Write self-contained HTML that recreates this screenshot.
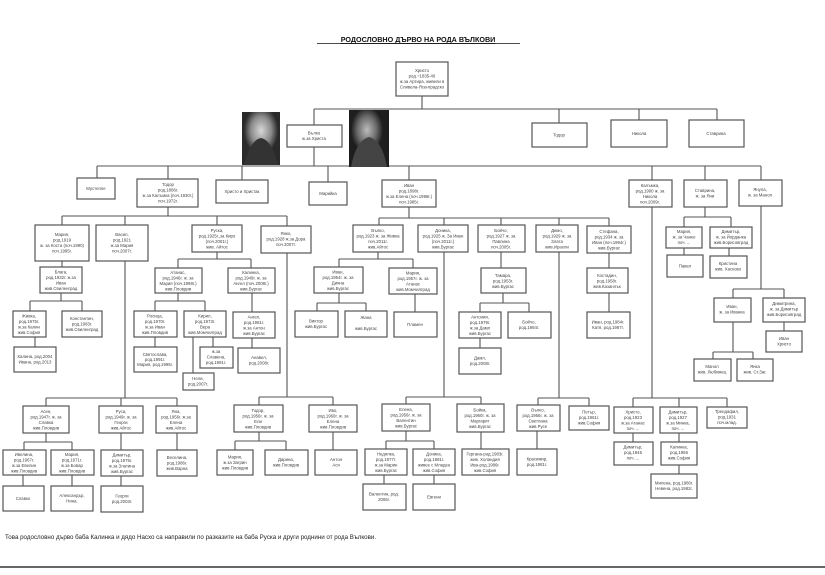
<!DOCTYPE html>
<html><head><meta charset="utf-8"><style>
html,body{margin:0;padding:0;background:#fff;width:825px;height:575px;overflow:hidden}
svg{display:block}
rect.b{fill:#fff;stroke:#555;stroke-width:1.2}
text{font-family:"Liberation Sans",sans-serif;font-size:4.3px;fill:#444;text-anchor:middle}
line,path.c{stroke:#555;stroke-width:1.1;fill:none}
</style></head><body>
<svg width="825" height="575" viewBox="0 0 825 575" xmlns="http://www.w3.org/2000/svg">
<text x="418" y="42" style="font-size:7.2px;font-weight:bold;fill:#111;text-decoration:underline">РОДОСЛОВНО ДЪРВО НА РОДА ВЪЛКОВИ</text>
<line x1="317" y1="43.5" x2="520" y2="43.5" style="stroke:#111;stroke-width:0.7"/>

<!-- connectors -->
<path class="c" d="M422 96V109M314 109H717M314 109V125M559 109V123M639 109V120M717 109V120
M314 147V166M97 166H761M97 166V178M168 166V179M242 166V180M328 166V182M409 166V180M652 166V180M705 166V180M761 166V180
M168 207V216M62 216H287M62 216V225M125 216V225M217 216V225M287 216V226
M409 207V218M379 218H609M379 218V225M444 218V225M501 218V225M559 218V225M609 218V226
M705 207V217M684 217H731M684 217V227M731 217V227M684 248V255M729 248V256
M761 206V289M733 289H784M733 289V298M784 289V298M733 322V352M713 352H753M713 352V359M753 352V359M784 322V331
M62 261V267M61 293V301M30 301H82M30 301V311M82 301V311M35 337V347
M125 261V398M46 398H177M46 398V406M121 398V406M177 398V406M46 433V442M24 442H72M24 442V450M72 442V450M23 475V486M72 475V486M121 433V450M121 476V486M177 433V450
M217 252V259M178 259H251M178 259V268M251 259V268M178 293V301M155 301H205M155 301V311M205 301V311M155 337V347M193 337V373M213 337V347M252 293V312M252 338V348
M287 253V397M259 397H333M259 397V405M333 397V405M259 432V441M235 441H286M235 441V450M286 441V450M333 432V450
M378 252V259M339 259H413M339 259V268M413 259V268M339 293V303M317 303H366M317 303V311M366 303V311M415 294V312
M444 252V397M406 397H481M406 397V404M481 397V404M406 431V441M386 441H434M386 441V449M434 441V449M384 475V484M434 475V484M481 432V449
M501 252V268M503 293V303M480 303H529M480 303V312M529 303V312M480 338V348
M559 252V398M538 398H589M538 398V405M589 398V406M537 431V449
M609 253V268M609 293V312
M652 207V398M633 398H727M633 398V407M679 398V407M727 398V407M633 433V442M679 433V442M679 465V474"/>

<!-- photos -->
<defs>
<radialGradient id="f1" cx="0.5" cy="0.35" r="0.45"><stop offset="0" stop-color="#d8d8d8"/><stop offset="0.6" stop-color="#8a8a8a"/><stop offset="1" stop-color="#2a2a2a"/></radialGradient>
<radialGradient id="f2" cx="0.45" cy="0.35" r="0.4"><stop offset="0" stop-color="#bcbcbc"/><stop offset="0.6" stop-color="#6a6a6a"/><stop offset="1" stop-color="#1e1e1e"/></radialGradient>
</defs>
<rect x="242" y="112" width="38" height="53" fill="#2a2a2a"/>
<rect x="242" y="112" width="38" height="53" fill="url(#f1)"/>
<path d="M244 165 Q250 140 261 138 Q272 140 278 165Z" fill="#333"/>
<rect x="349" y="110" width="40" height="57" fill="#262626"/>
<rect x="349" y="110" width="40" height="57" fill="url(#f2)"/>
<path d="M351 167 Q356 140 369 137 Q382 140 387 167Z" fill="#444"/>

<!-- boxes -->
<rect class="b" x="396" y="62" width="52" height="34"/><text><tspan x="422" y="72">Христо</tspan><tspan x="422" dy="5.5">род.~1835-40</tspan><tspan x="422" dy="5.5">ж.за Артира, живели в</tspan><tspan x="422" dy="5.5">Сливела-Ясенградско</tspan></text>
<rect class="b" x="287" y="125" width="55" height="22"/><text><tspan x="314" y="134.5">Вълко</tspan><tspan x="314" dy="5.5">ж.за Христа</tspan></text>
<rect class="b" x="532" y="123" width="55" height="24"/><text x="559" y="136.5">Тодор</text>
<rect class="b" x="611" y="120" width="56" height="27"/><text x="639" y="135">Никола</text>
<rect class="b" x="689" y="120" width="55" height="27"/><text x="716" y="135">Ставрина</text>

<rect class="b" x="77" y="178" width="38" height="21"/><text x="96" y="190">Мустепле</text>
<rect class="b" x="137" y="179" width="61" height="28"/><text><tspan x="168" y="186">Тодор</tspan><tspan x="168" dy="5.5">род.1886г.</tspan><tspan x="168" dy="5.5">ж.за Калъмка (поч.1930г.)</tspan><tspan x="168" dy="5.5">поч.1972г.</tspan></text>
<rect class="b" x="216" y="180" width="52" height="23"/><text x="242" y="193">Христо и Христак</text>
<rect class="b" x="309" y="182" width="38" height="23"/><text x="328" y="195">Марийка</text>
<rect class="b" x="382" y="180" width="54" height="27"/><text><tspan x="409" y="187">Иван</tspan><tspan x="409" dy="5.5">род.1898г.</tspan><tspan x="409" dy="5.5">ж.за Елена (поч.1998г.)</tspan><tspan x="409" dy="5.5">поч.1985г.</tspan></text>
<rect class="b" x="629" y="180" width="43" height="27"/><text><tspan x="650" y="187">Калъмка,</tspan><tspan x="650" dy="5.5">род.1900 ж. за</tspan><tspan x="650" dy="5.5">Никола</tspan><tspan x="650" dy="5.5">поч.2009г.</tspan></text>
<rect class="b" x="684" y="180" width="43" height="27"/><text><tspan x="705" y="192">Ставрина,</tspan><tspan x="705" dy="5.5">ж. за Яни</tspan></text>
<rect class="b" x="739" y="180" width="43" height="26"/><text><tspan x="760" y="191">Янула,</tspan><tspan x="760" dy="5.5">ж. за Манол</tspan></text>

<rect class="b" x="35" y="225" width="54" height="36"/><text><tspan x="62" y="236">Мария,</tspan><tspan x="62" dy="5.5">род.1919</tspan><tspan x="62" dy="5.5">ж. за Коста (поч.1990)</tspan><tspan x="62" dy="5.5">поч.1995г.</tspan></text>
<rect class="b" x="96" y="225" width="52" height="36"/><text><tspan x="122" y="236">Васил,</tspan><tspan x="122" dy="5.5">род.1921</tspan><tspan x="122" dy="5.5">ж.за Мария</tspan><tspan x="122" dy="5.5">поч.2007г.</tspan></text>
<rect class="b" x="192" y="225" width="50" height="27"/><text><tspan x="217" y="232">Руска,</tspan><tspan x="217" dy="5.5">род.1925г.,за Киро</tspan><tspan x="217" dy="5.5">(поч.2001г.)</tspan><tspan x="217" dy="5.5">жив. Айтос</tspan></text>
<rect class="b" x="261" y="226" width="50" height="27"/><text><tspan x="286" y="235">Янко,</tspan><tspan x="286" dy="5.5">род.1928 ж.за Дора</tspan><tspan x="286" dy="5.5">поч.2007г.</tspan></text>
<rect class="b" x="353" y="225" width="50" height="27"/><text><tspan x="378" y="232">Вълко,</tspan><tspan x="378" dy="5.5">род.1923 ж. за Живка</tspan><tspan x="378" dy="5.5">поч.2011г.</tspan><tspan x="378" dy="5.5">жив.Айтос</tspan></text>
<rect class="b" x="418" y="225" width="50" height="27"/><text><tspan x="443" y="232">Доника,</tspan><tspan x="443" dy="5.5">род.1925 ж. За Иван</tspan><tspan x="443" dy="5.5">(поч.2011г.)</tspan><tspan x="443" dy="5.5">жив.Бургас</tspan></text>
<rect class="b" x="478" y="225" width="47" height="27"/><text><tspan x="501" y="232">Бойчо,</tspan><tspan x="501" dy="5.5">род.1927 ж. за</tspan><tspan x="501" dy="5.5">Павлина</tspan><tspan x="501" dy="5.5">поч.2005г.</tspan></text>
<rect class="b" x="536" y="225" width="42" height="27"/><text><tspan x="557" y="232">Димо,</tspan><tspan x="557" dy="5.5">род.1929 ж. за</tspan><tspan x="557" dy="5.5">Злата</tspan><tspan x="557" dy="5.5">жив.Ирахли</tspan></text>
<rect class="b" x="587" y="226" width="44" height="27"/><text><tspan x="609" y="233">Стефана,</tspan><tspan x="609" dy="5.5">род.1934 ж. за</tspan><tspan x="609" dy="5.5">Иван (поч.1994г.)</tspan><tspan x="609" dy="5.5">жив.Бургас</tspan></text>
<rect class="b" x="666" y="227" width="36" height="21"/><text><tspan x="684" y="233">Мария,</tspan><tspan x="684" dy="5.5">ж. за Чанко</tspan><tspan x="684" dy="5.5">поч. ...</tspan></text>
<rect class="b" x="710" y="227" width="42" height="21"/><text><tspan x="731" y="233">Димитър,</tspan><tspan x="731" dy="5.5">ж. за Йорданка</tspan><tspan x="731" dy="5.5">жив.Борисовград</tspan></text>
<rect class="b" x="667" y="255" width="36" height="22"/><text x="685" y="267.5">Павел</text>
<rect class="b" x="710" y="256" width="37" height="22"/><text><tspan x="728" y="265">Кристина</tspan><tspan x="728" dy="5.5">жив. Хасково</tspan></text>

<rect class="b" x="40" y="267" width="42" height="26"/><text><tspan x="61" y="273.5">Блага,</tspan><tspan x="61" dy="5.5">род.1932г. ж.за</tspan><tspan x="61" dy="5.5">Иван</tspan><tspan x="61" dy="5.5">жив.Свиленград</tspan></text>
<rect class="b" x="155" y="268" width="47" height="25"/><text><tspan x="178" y="274">Атанас,</tspan><tspan x="178" dy="5.5">род.1946г. ж. за</tspan><tspan x="178" dy="5.5">Мария (поч.1998г.)</tspan><tspan x="178" dy="5.5">жив.Пловдив</tspan></text>
<rect class="b" x="228" y="268" width="47" height="25"/><text><tspan x="251" y="274">Калинка,</tspan><tspan x="251" dy="5.5">род.1949г. ж. за</tspan><tspan x="251" dy="5.5">Ангел (поч.2008г.)</tspan><tspan x="251" dy="5.5">жив.Бургас</tspan></text>
<rect class="b" x="314" y="267" width="49" height="26"/><text><tspan x="338" y="273.5">Иван,</tspan><tspan x="338" dy="5.5">род.1954г. ж. за</tspan><tspan x="338" dy="5.5">Дияна</tspan><tspan x="338" dy="5.5">жив.Бургас</tspan></text>
<rect class="b" x="389" y="268" width="48" height="26"/><text><tspan x="413" y="274.5">Мария,</tspan><tspan x="413" dy="5.5">род.1957г. ж. за</tspan><tspan x="413" dy="5.5">Атанас</tspan><tspan x="413" dy="5.5">жив.Момчилград</tspan></text>
<rect class="b" x="481" y="268" width="45" height="25"/><text><tspan x="503" y="277">Тамара,</tspan><tspan x="503" dy="5.5">род.1953г.</tspan><tspan x="503" dy="5.5">жив.Бургас</tspan></text>
<rect class="b" x="587" y="268" width="41" height="25"/><text><tspan x="607" y="277">Костадин,</tspan><tspan x="607" dy="5.5">род.1958г.</tspan><tspan x="607" dy="5.5">жив.Казанлък</tspan></text>
<rect class="b" x="714" y="298" width="37" height="24"/><text><tspan x="732" y="308">Иван,</tspan><tspan x="732" dy="5.5">ж. за Иванка</tspan></text>
<rect class="b" x="763" y="298" width="42" height="24"/><text><tspan x="784" y="305">Димитрина,</tspan><tspan x="784" dy="5.5">ж. за Димитър</tspan><tspan x="784" dy="5.5">жив.Борисовград</tspan></text>

<rect class="b" x="13" y="311" width="33" height="26"/><text><tspan x="29" y="317.5">Живка,</tspan><tspan x="29" dy="5.5">род.1975г.</tspan><tspan x="29" dy="5.5">ж.за Калин</tspan><tspan x="29" dy="5.5">жив.София</tspan></text>
<rect class="b" x="62" y="311" width="40" height="26"/><text><tspan x="82" y="320">Константин,</tspan><tspan x="82" dy="5.5">род.1983г.</tspan><tspan x="82" dy="5.5">жив.Свиленград</tspan></text>
<rect class="b" x="134" y="311" width="43" height="26"/><text><tspan x="155" y="317.5">Росица,</tspan><tspan x="155" dy="5.5">род.1970г.</tspan><tspan x="155" dy="5.5">ж.за Иван</tspan><tspan x="155" dy="5.5">жив.Пловдив</tspan></text>
<rect class="b" x="184" y="311" width="42" height="26"/><text><tspan x="205" y="317.5">Кирил,</tspan><tspan x="205" dy="5.5">род.1973г.</tspan><tspan x="205" dy="5.5">Вера</tspan><tspan x="205" dy="5.5">жив.Момчилград</tspan></text>
<rect class="b" x="233" y="312" width="42" height="26"/><text><tspan x="254" y="318.5">Ангел,</tspan><tspan x="254" dy="5.5">род.1981г.</tspan><tspan x="254" dy="5.5">ж.за Антон</tspan><tspan x="254" dy="5.5">жив.Бургас</tspan></text>
<rect class="b" x="295" y="311" width="43" height="26"/><text><tspan x="316" y="322.5">Виктор</tspan><tspan x="316" dy="5.5">жив.Бургас</tspan></text>
<rect class="b" x="345" y="311" width="42" height="26"/><text><tspan x="366" y="319">Жана</tspan><tspan x="366" dy="11">жив.Бургас</tspan></text>
<rect class="b" x="394" y="312" width="43" height="25"/><text x="415" y="326">Пламен</text>
<rect class="b" x="459" y="312" width="42" height="26"/><text><tspan x="480" y="318.5">Антония,</tspan><tspan x="480" dy="5.5">род.1979г.</tspan><tspan x="480" dy="5.5">ж.за Дамл</tspan><tspan x="480" dy="5.5">жив.Бургас</tspan></text>
<rect class="b" x="508" y="312" width="43" height="26"/><text><tspan x="529" y="323.5">Бойчо,</tspan><tspan x="529" dy="5.5">род.1984г.</tspan></text>
<rect class="b" x="587" y="312" width="43" height="26"/><text><tspan x="608" y="323.5">Иван, род.1984г.</tspan><tspan x="608" dy="5.5">Катя, род.1987г.</tspan></text>
<rect class="b" x="766" y="331" width="36" height="21"/><text><tspan x="784" y="340">Иван</tspan><tspan x="784" dy="5.5">Христо</tspan></text>

<rect class="b" x="14" y="347" width="42" height="25"/><text><tspan x="35" y="358">Калина, род.2004</tspan><tspan x="35" dy="5.5">Ивана, род.2013</tspan></text>
<rect class="b" x="134" y="347" width="43" height="25"/><text><tspan x="155" y="356">Святослава,</tspan><tspan x="155" dy="5">род.1991г.</tspan><tspan x="155" dy="5">Мария, род.1995г.</tspan></text>
<rect class="b" x="200" y="347" width="33" height="21"/><text><tspan x="216" y="353">ж.за</tspan><tspan x="216" dy="5.5">Славена,</tspan><tspan x="216" dy="5.5">род.1981г.</tspan></text>
<rect class="b" x="238" y="348" width="42" height="25"/><text><tspan x="259" y="359">Анавел,</tspan><tspan x="259" dy="5.5">род.2008г.</tspan></text>
<rect class="b" x="459" y="348" width="42" height="26"/><text><tspan x="480" y="359.5">Дамл,</tspan><tspan x="480" dy="5.5">род.2008г.</tspan></text>
<rect class="b" x="694" y="359" width="37" height="22"/><text><tspan x="712" y="368">Манол</tspan><tspan x="712" dy="5.5">жив. Любимец</tspan></text>
<rect class="b" x="737" y="359" width="36" height="22"/><text><tspan x="755" y="368">Янка</tspan><tspan x="755" dy="5.5">жив. Ст.Заг.</tspan></text>
<rect class="b" x="183" y="373" width="31" height="17"/><text><tspan x="198" y="380">Нели,</tspan><tspan x="198" dy="5.5">род.2007г.</tspan></text>

<rect class="b" x="23" y="406" width="46" height="27"/><text><tspan x="46" y="413">Асен,</tspan><tspan x="46" dy="5.5">род.1947г. ж. за</tspan><tspan x="46" dy="5.5">Славка</tspan><tspan x="46" dy="5.5">жив.Пловдив</tspan></text>
<rect class="b" x="99" y="406" width="44" height="27"/><text><tspan x="121" y="413">Руса,</tspan><tspan x="121" dy="5.5">род.1949г. ж. за</tspan><tspan x="121" dy="5.5">Георги</tspan><tspan x="121" dy="5.5">жив.Айтос</tspan></text>
<rect class="b" x="156" y="406" width="41" height="27"/><text><tspan x="176" y="413">Яна,</tspan><tspan x="176" dy="5.5">род.1956г. ж.за</tspan><tspan x="176" dy="5.5">Елена</tspan><tspan x="176" dy="5.5">жив.Айтос</tspan></text>
<rect class="b" x="234" y="405" width="49" height="27"/><text><tspan x="258" y="412">Тодор,</tspan><tspan x="258" dy="5.5">род.1956г. ж. за</tspan><tspan x="258" dy="5.5">Ели</tspan><tspan x="258" dy="5.5">жив.Пловдив</tspan></text>
<rect class="b" x="309" y="405" width="48" height="27"/><text><tspan x="333" y="412">Иво,</tspan><tspan x="333" dy="5.5">род.1960г. ж. за</tspan><tspan x="333" dy="5.5">Елена</tspan><tspan x="333" dy="5.5">жив.Пловдив</tspan></text>
<rect class="b" x="382" y="404" width="48" height="27"/><text><tspan x="406" y="411">Елена,</tspan><tspan x="406" dy="5.5">род.1956г. ж. за</tspan><tspan x="406" dy="5.5">Валентин</tspan><tspan x="406" dy="5.5">жив.Бургас</tspan></text>
<rect class="b" x="457" y="404" width="47" height="28"/><text><tspan x="480" y="411.5">Бойка,</tspan><tspan x="480" dy="5.5">род.1960г. ж. за</tspan><tspan x="480" dy="5.5">Маргарит</tspan><tspan x="480" dy="5.5">жив.Бургас</tspan></text>
<rect class="b" x="517" y="405" width="43" height="26"/><text><tspan x="538" y="411.5">Вълко,</tspan><tspan x="538" dy="5.5">род.1956г. ж. за</tspan><tspan x="538" dy="5.5">Светлана</tspan><tspan x="538" dy="5.5">жив.Русе</tspan></text>
<rect class="b" x="569" y="406" width="40" height="24"/><text><tspan x="589" y="413.5">Петър,</tspan><tspan x="589" dy="5.5">род.1961г.</tspan><tspan x="589" dy="5.5">жив.София</tspan></text>
<rect class="b" x="614" y="407" width="39" height="26"/><text><tspan x="633" y="413.5">Христо,</tspan><tspan x="633" dy="5.5">род.1923</tspan><tspan x="633" dy="5.5">ж.за Атанас</tspan><tspan x="633" dy="5.5">поч. ...</tspan></text>
<rect class="b" x="660" y="407" width="37" height="26"/><text><tspan x="678" y="413.5">Димитър,</tspan><tspan x="678" dy="5.5">род.1927</tspan><tspan x="678" dy="5.5">ж.за Минка,</tspan><tspan x="678" dy="5.5">поч. ...</tspan></text>
<rect class="b" x="707" y="407" width="40" height="21"/><text><tspan x="727" y="413">Трендафил,</tspan><tspan x="727" dy="5.5">род.1931</tspan><tspan x="727" dy="5.5">поч.млад.</tspan></text>
<rect class="b" x="614" y="442" width="39" height="23"/><text><tspan x="633" y="448.5">Димитър,</tspan><tspan x="633" dy="5.5">род.1946</tspan><tspan x="633" dy="5.5">поч. ...</tspan></text>
<rect class="b" x="661" y="442" width="36" height="23"/><text><tspan x="679" y="448.5">Калинка,</tspan><tspan x="679" dy="5.5">род.1956</tspan><tspan x="679" dy="5.5">жив.София</tspan></text>
<rect class="b" x="651" y="474" width="46" height="24"/><text><tspan x="674" y="484.5">Милена, род.1980г.</tspan><tspan x="674" dy="5.5">Невена, род.1982г.</tspan></text>

<rect class="b" x="3" y="450" width="43" height="25"/><text><tspan x="24" y="456">Ивелина,</tspan><tspan x="24" dy="5.5">род.1967г.</tspan><tspan x="24" dy="5.5">ж.за Евелин</tspan><tspan x="24" dy="5.5">жив.Пловдив</tspan></text>
<rect class="b" x="51" y="450" width="43" height="25"/><text><tspan x="72" y="456">Мария,</tspan><tspan x="72" dy="5.5">род.1971г.</tspan><tspan x="72" dy="5.5">ж.за Бовар</tspan><tspan x="72" dy="5.5">жив.Пловдив</tspan></text>
<rect class="b" x="101" y="450" width="42" height="26"/><text><tspan x="122" y="456.5">Димитър,</tspan><tspan x="122" dy="5.5">род.1975г.</tspan><tspan x="122" dy="5.5">ж.за Златина</tspan><tspan x="122" dy="5.5">жив.Бургас</tspan></text>
<rect class="b" x="157" y="450" width="40" height="26"/><text><tspan x="177" y="459">Веселина,</tspan><tspan x="177" dy="5.5">род.1986г.</tspan><tspan x="177" dy="5.5">жив.Варна</tspan></text>
<rect class="b" x="217" y="450" width="36" height="25"/><text><tspan x="235" y="458.5">Мария,</tspan><tspan x="235" dy="5.5">ж.за Загрин</tspan><tspan x="235" dy="5.5">жив.Пловдив</tspan></text>
<rect class="b" x="265" y="450" width="43" height="25"/><text><tspan x="286" y="461">Дарина,</tspan><tspan x="286" dy="5.5">жив.Пловдив</tspan></text>
<rect class="b" x="315" y="450" width="42" height="25"/><text><tspan x="336" y="461">Антон</tspan><tspan x="336" dy="5.5">Ася</tspan></text>
<rect class="b" x="365" y="449" width="42" height="26"/><text><tspan x="386" y="455.5">Недялка,</tspan><tspan x="386" dy="5.5">род.1977г.</tspan><tspan x="386" dy="5.5">ж.за Марин</tspan><tspan x="386" dy="5.5">жив.Бургас</tspan></text>
<rect class="b" x="413" y="449" width="42" height="26"/><text><tspan x="434" y="455.5">Доника,</tspan><tspan x="434" dy="5.5">род.1981г.</tspan><tspan x="434" dy="5.5">живее с Младен</tspan><tspan x="434" dy="5.5">жив.София</tspan></text>
<rect class="b" x="462" y="449" width="47" height="26"/><text><tspan x="485" y="455.5">Гергана-род.1983г.</tspan><tspan x="485" dy="5.5">жив. Холандия</tspan><tspan x="485" dy="5.5">Ива-род.1986г.</tspan><tspan x="485" dy="5.5">жив.София</tspan></text>
<rect class="b" x="517" y="449" width="40" height="26"/><text><tspan x="537" y="460.5">Красимир,</tspan><tspan x="537" dy="5.5">род.1981г.</tspan></text>
<rect class="b" x="3" y="486" width="41" height="25"/><text x="23" y="500">Славко</text>
<rect class="b" x="51" y="486" width="42" height="25"/><text><tspan x="72" y="497">Александър,</tspan><tspan x="72" dy="5.5">Нина.</tspan></text>
<rect class="b" x="101" y="486" width="42" height="26"/><text><tspan x="122" y="497.5">Георги</tspan><tspan x="122" dy="5.5">род.2003г.</tspan></text>
<rect class="b" x="363" y="484" width="43" height="26"/><text><tspan x="384" y="495.5">Валентин, род.</tspan><tspan x="384" dy="5.5">2006г.</tspan></text>
<rect class="b" x="413" y="484" width="42" height="26"/><text x="434" y="498.5">Евгени</text>

<text x="5" y="539" style="font-size:6.2px;text-anchor:start;fill:#222">Това родословно дърво баба Калинка и дядо Насхо са направили по разказите на баба Руска и други роднини от рода Вълкови.</text>
<line x1="0" y1="567" x2="825" y2="567" style="stroke:#333;stroke-width:1.5"/>
</svg>
</body></html>
